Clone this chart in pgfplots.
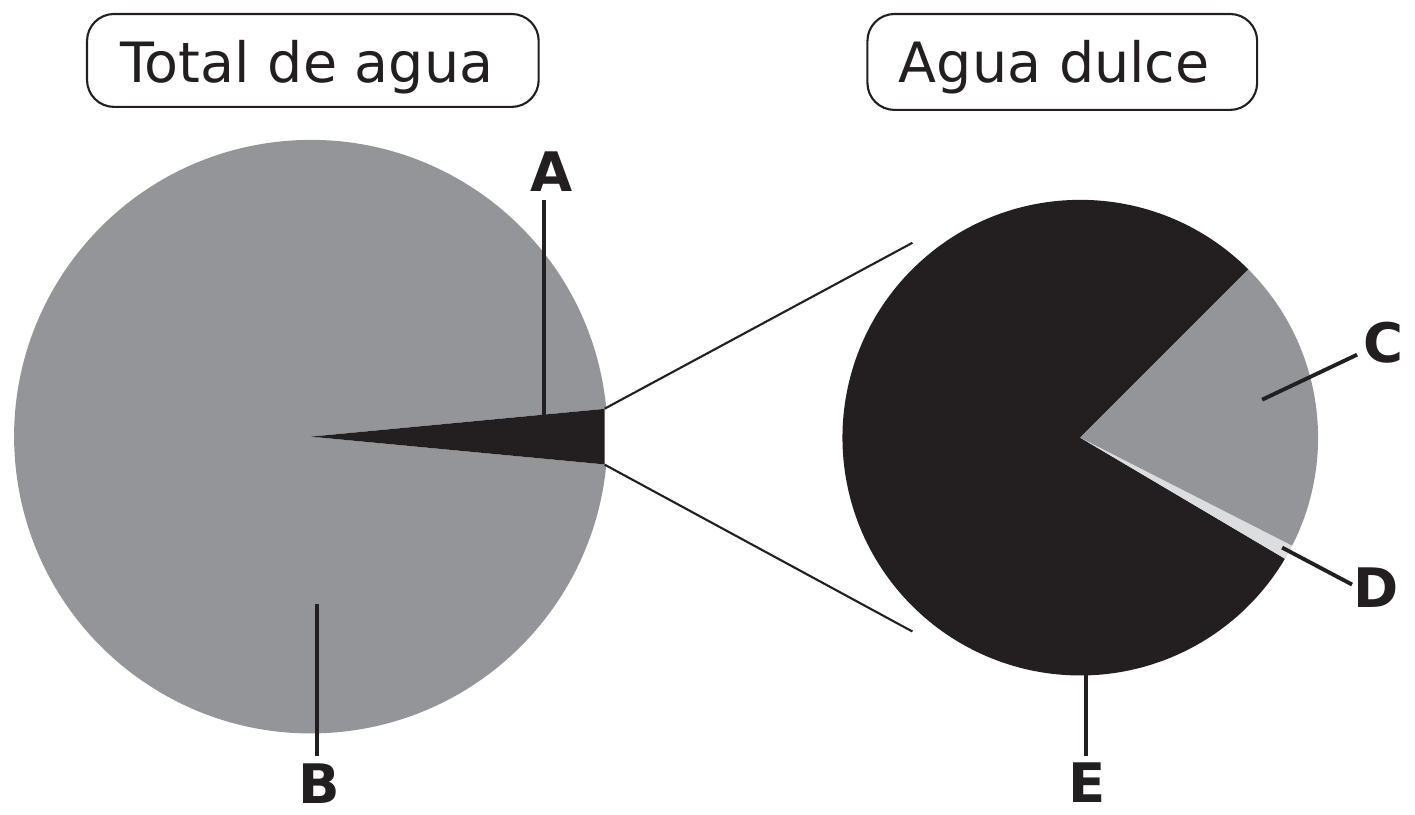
\documentclass[border=0pt]{standalone}
\usepackage{pgfplots}
\pgfplotsset{compat=1.18}
\usepackage{fontspec}
\setmainfont{DejaVu Sans}

\definecolor{pieGray}{HTML}{939598}
\definecolor{pieBlack}{HTML}{231F20}
\definecolor{pieLight}{HTML}{DCDDDE}

% shares in percent
\def\shareA{3}   % agua dulce
\def\shareB{97}  % agua salada
\def\shareC{20}
\def\shareD{1}
\def\shareE{79}

% \slice{cx}{cy}{r}{start}{end}{colour}, in axis units (1 unit = 0.01cm)
\newcommand{\slice}[6]{%
  \fill[#6] (axis cs:#1,#2) -- ++(#4:#3*0.01cm)
    arc[start angle=#4, end angle=#5, radius=#3*0.01cm] -- cycle;}

\begin{document}
\begin{tikzpicture}
\begin{axis}[
  x=0.01cm, y=0.01cm,
  xmin=0, xmax=1415, ymin=0, ymax=815,
  enlargelimits=false,
  axis line style={draw=none}, ticks=none,
  clip=false,
]
% total water: B grey, A black wedge centred on 0 deg
\pgfmathsetmacro{\halfA}{\shareA*3.6/2}
\slice{310}{378}{297}{\halfA}{360-\halfA}{pieGray}
\pgfmathsetmacro{\wedgeY}{294*tan(\halfA)}
\fill[pieBlack] (axis cs:310,378) -- (axis cs:604,378+\wedgeY)
  -- (axis cs:604,378-\wedgeY) -- cycle;

% fresh water: E from 45 deg, then D, then C
\pgfmathsetmacro{\eEnd}{45+\shareE*3.6}
\pgfmathsetmacro{\dEnd}{\eEnd+\shareD*3.6}
\pgfmathsetmacro{\cEnd}{\dEnd+\shareC*3.6}
\slice{1080}{377}{238}{45}{\eEnd}{pieBlack}
\slice{1080}{377}{238}{\eEnd}{\dEnd}{pieLight}
\slice{1080}{377}{238}{\dEnd}{\cEnd}{pieGray}

% connectors
\draw[line width=0.6pt, pieBlack] (axis cs:604,406) -- (axis cs:912,572);
\draw[line width=0.6pt, pieBlack] (axis cs:604,350) -- (axis cs:912,183);

% label leaders
\draw[line width=1.1pt, pieBlack] (axis cs:543,615) -- (axis cs:543,400);
\draw[line width=1.1pt, pieBlack] (axis cs:316,211) -- (axis cs:316,58);
\draw[line width=1.1pt, pieBlack] (axis cs:1262,415) -- (axis cs:1357,460);
\draw[line width=1.1pt, pieBlack] (axis cs:1282,267) -- (axis cs:1352,230);
\draw[line width=1.1pt, pieBlack] (axis cs:1086,139) -- (axis cs:1086,58);

% titles
\draw[line width=0.6pt, pieBlack, rounded corners=0.27cm]
  (axis cs:86,708) rectangle (axis cs:538,801);
\draw[line width=0.6pt, pieBlack, rounded corners=0.27cm]
  (axis cs:867,705) rectangle (axis cs:1257,801);
\node[anchor=base, inner sep=0pt, text=pieBlack, font=\fontsize{15.8}{18}\selectfont]
  at (axis cs:306,732) {Total de agua};
\node[anchor=base, inner sep=0pt, text=pieBlack, font=\fontsize{15.8}{18}\selectfont]
  at (axis cs:1054,732) {Agua dulce};

% letters
\tikzset{lbl/.style={anchor=base, inner sep=0pt, text=pieBlack,
  font=\fontsize{15.5}{18}\selectfont\bfseries}}
\node[lbl] at (axis cs:551,623) {A};
\node[lbl] at (axis cs:318,11) {B};
\node[lbl] at (axis cs:1383,452) {C};
\node[lbl] at (axis cs:1376,207) {D};
\node[lbl] at (axis cs:1087,12) {E};
\end{axis}
\end{tikzpicture}
\end{document}
